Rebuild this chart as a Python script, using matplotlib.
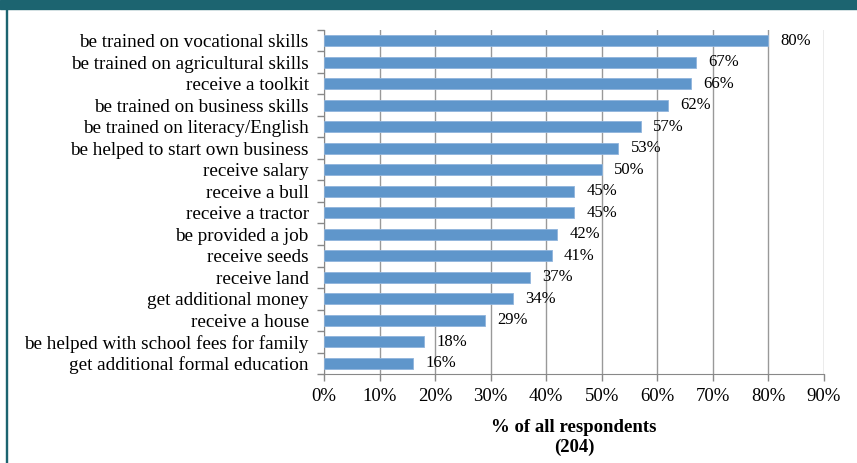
import matplotlib
matplotlib.use("Agg")
import matplotlib.pyplot as plt
from matplotlib.patches import Rectangle

plt.rcParams['font.family'] = ['Liberation Serif', 'DejaVu Serif']

options = ["be trained on vocational skills", "be trained on agricultural skills",
           "receive a toolkit", "be trained on business skills",
           "be trained on literacy/English", "be helped to start own business",
           "receive salary", "receive a bull", "receive a tractor",
           "be provided a job", "receive seeds", "receive land",
           "get additional money", "receive a house",
           "be helped with school fees for family", "get additional formal education"]
share = [80, 67, 66, 62, 57, 53, 50, 45, 45, 42, 41, 37, 34, 29, 18, 16]

fig = plt.figure(figsize=(8.57, 4.63), dpi=100)
# header band and left border
fig.patches.append(Rectangle((0, 1 - 9 / 463), 1, 9 / 463, transform=fig.transFigure,
                             color='#1c6470', zorder=0))
fig.patches.append(Rectangle((6 / 857, 0), 1.5 / 857, 1, transform=fig.transFigure,
                             color='#1c6470', zorder=0))

ax = fig.add_axes([324 / 857, (463 - 374) / 463, 500 / 857, 344 / 463])
y = list(range(len(options)))
ax.barh(y, share, height=0.5, color='#5f96cb', edgecolor='#8fb4dc', linewidth=0.6, zorder=3)
for yi, v in zip(y, share):
    ax.text(v + 2.2, yi, f"{v}%", va='center', ha='left', fontsize=12, zorder=4)

ax.set_xlim(0, 90)
ax.set_ylim(len(options) - 0.5, -0.5)
ax.set_xticks(range(0, 91, 10))
ax.set_xticklabels([f"{t}%" for t in range(0, 91, 10)], fontsize=13.5)
ax.set_yticks(y)
ax.set_yticklabels(options, fontsize=13.8)
ax.set_yticks([i + 0.5 for i in range(-1, len(options))], minor=True)
ax.tick_params(axis='y', which='major', length=0, pad=11)
ax.tick_params(axis='y', which='minor', length=5, color='#888888', width=1)
ax.tick_params(axis='x', length=5, color='#888888', width=1, pad=5)
ax.grid(axis='x', color='#999999', linewidth=1, zorder=0)
for s in ['top', 'right']:
    ax.spines[s].set_visible(False)
for s in ['left', 'bottom']:
    ax.spines[s].set_color('#888888')
ax.set_xlabel("% of all respondents\n(204)", fontsize=13.5, fontweight='bold', labelpad=10)

fig.savefig("out.png", dpi=100)
